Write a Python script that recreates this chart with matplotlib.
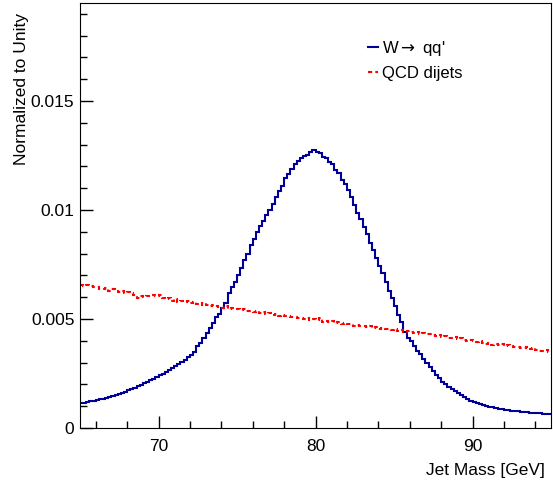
import numpy as np
import matplotlib
matplotlib.use("Agg")
import matplotlib.pyplot as plt

plt.rcParams['font.family'] = ['Liberation Sans', 'DejaVu Sans']

# bin edges: 0.2 GeV bins from 65 to 95
edges = np.round(np.arange(65.0, 95.0001, 0.2), 1)

# W -> qq' jet mass (normalized)
w_qq = [
    0.00114, 0.00117, 0.00119, 0.00122, 0.00126,
    0.00129, 0.00131, 0.00135, 0.00138, 0.00143,
    0.00148, 0.00151, 0.00156, 0.00162, 0.00167,
    0.00174, 0.00178, 0.00184, 0.00192, 0.00197,
    0.00205, 0.00212, 0.00218, 0.00227, 0.00235,
    0.00243, 0.00249, 0.00259, 0.00268, 0.00276,
    0.00285, 0.00294, 0.00303, 0.00312, 0.00325,
    0.00336, 0.00348, 0.00378, 0.00392, 0.00415,
    0.00436, 0.00458, 0.00482, 0.00508, 0.00524,
    0.00552, 0.00575, 0.00620, 0.00648, 0.00672,
    0.00702, 0.00735, 0.00770, 0.00800, 0.00838,
    0.00868, 0.00898, 0.00925, 0.00948, 0.00975,
    0.01002, 0.01030, 0.01058, 0.01088, 0.01110,
    0.01148, 0.01165, 0.01188, 0.01210, 0.01225,
    0.01240, 0.01248, 0.01252, 0.01266, 0.01275,
    0.01268, 0.01262, 0.01245, 0.01238, 0.01222,
    0.01210, 0.01185, 0.01168, 0.01140, 0.01118,
    0.01090, 0.01060, 0.01025, 0.00988, 0.00958,
    0.00920, 0.00888, 0.00850, 0.00818, 0.00780,
    0.00745, 0.00712, 0.00668, 0.00630, 0.00598,
    0.00560, 0.00520, 0.00488, 0.00440, 0.00415,
    0.00400, 0.00378, 0.00355, 0.00338, 0.00318,
    0.00300, 0.00282, 0.00262, 0.00245, 0.00228,
    0.00212, 0.00200, 0.00188, 0.00178, 0.00168,
    0.00160, 0.00150, 0.00142, 0.00134, 0.00126,
    0.00120, 0.00115, 0.00110, 0.00106, 0.00101,
    0.00098, 0.00095, 0.00091, 0.00088, 0.00085,
    0.00083, 0.00081, 0.00080, 0.00078, 0.00076,
    0.00075, 0.00074, 0.00072, 0.00071, 0.00070,
    0.00069, 0.00068, 0.00065, 0.00066, 0.00063,
]

# QCD dijets jet mass (normalized)
qcd = [
    0.00656, 0.00650, 0.00655, 0.00652, 0.00645,
    0.00648, 0.00640, 0.00636, 0.00641, 0.00630,
    0.00638, 0.00628, 0.00622, 0.00630, 0.00618,
    0.00625, 0.00620, 0.00610, 0.00598, 0.00604,
    0.00600, 0.00606, 0.00612, 0.00610, 0.00605,
    0.00608, 0.00598, 0.00592, 0.00596, 0.00585,
    0.00590, 0.00580, 0.00584, 0.00578, 0.00582,
    0.00575, 0.00578, 0.00570, 0.00566, 0.00572,
    0.00564, 0.00560, 0.00566, 0.00558, 0.00555,
    0.00552, 0.00558, 0.00548, 0.00552, 0.00545,
    0.00548, 0.00540, 0.00546, 0.00535, 0.00538,
    0.00530, 0.00535, 0.00528, 0.00532, 0.00525,
    0.00528, 0.00520, 0.00522, 0.00516, 0.00520,
    0.00512, 0.00515, 0.00508, 0.00510, 0.00504,
    0.00506, 0.00500, 0.00503, 0.00496, 0.00500,
    0.00495, 0.00505, 0.00488, 0.00492, 0.00485,
    0.00490, 0.00482, 0.00486, 0.00478, 0.00482,
    0.00475, 0.00478, 0.00470, 0.00474, 0.00466,
    0.00470, 0.00462, 0.00466, 0.00458, 0.00462,
    0.00456, 0.00460, 0.00452, 0.00455, 0.00448,
    0.00452, 0.00446, 0.00448, 0.00442, 0.00445,
    0.00440, 0.00436, 0.00440, 0.00432, 0.00435,
    0.00430, 0.00433, 0.00426, 0.00422, 0.00425,
    0.00418, 0.00422, 0.00415, 0.00412, 0.00416,
    0.00408, 0.00412, 0.00405, 0.00400, 0.00404,
    0.00398, 0.00395, 0.00400, 0.00392, 0.00385,
    0.00390, 0.00382, 0.00386, 0.00380, 0.00385,
    0.00378, 0.00382, 0.00375, 0.00370, 0.00373,
    0.00368, 0.00365, 0.00370, 0.00362, 0.00366,
    0.00360, 0.00355, 0.00352, 0.00358, 0.00350,
]

fig = plt.figure(figsize=(5.53, 4.87), dpi=100)
ax = fig.add_axes([80/553, 1-428/487, 471/553, 425/487])

ax.stairs(w_qq, edges, baseline=None, color='#000099', lw=1.5, label=r"W$\rightarrow$ qq'")
ax.stairs(qcd, edges, baseline=None, color='#ff0000', lw=1.5, linestyle=(0, (2, 1.5)),
          label='QCD dijets')

ax.set_xlim(65, 95)
ax.set_ylim(0, 0.0195)
ax.set_xticks([70, 80, 90])
ax.set_xticks(np.arange(66, 95, 2), minor=True)
ax.set_yticks([0, 0.005, 0.01, 0.015])
ax.set_yticklabels(['0', '0.005', '0.01', '0.015'])
ax.set_yticks(np.arange(0, 0.0195, 0.001), minor=True)
ax.tick_params(which='both', direction='in', top=False, right=False, labelsize=12.5)
ax.tick_params(which='major', length=9, width=1)
ax.tick_params(which='minor', length=5, width=1)
ax.tick_params(axis='x', pad=8)
ax.tick_params(axis='y', pad=4)

fig.text(22/553, 1-13/487, 'Normalized to Unity', rotation=90, ha='center', va='top', fontsize=12.5)
fig.text(545/553, 1-470/487, 'Jet Mass [GeV]', ha='right', va='center', fontsize=12.5)

ax.legend(loc='upper left', bbox_to_anchor=(360/553, 1-31/487), bbox_transform=fig.transFigure,
          frameon=False, handlelength=0.6, handletextpad=0.25, fontsize=12, labelspacing=0.45,
          borderpad=0)

fig.savefig('out.png', dpi=100)
